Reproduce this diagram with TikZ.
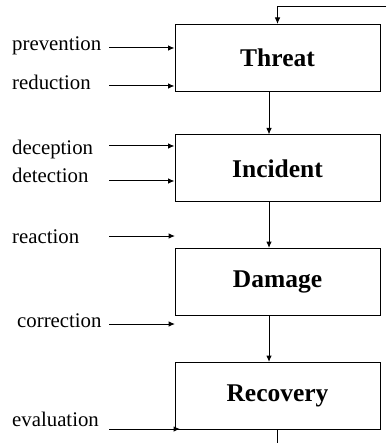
\documentclass[tikz,border=0pt]{standalone}
\usepackage{fontspec}
\setmainfont{Liberation Serif}
\usetikzlibrary{arrows.meta}
\begin{document}
\begin{tikzpicture}[x=1pt,y=-1pt,
  box/.style={draw,line width=1pt,minimum width=205pt,minimum height=67pt,inner sep=0pt,
    font=\fontsize{25.5}{28}\selectfont\bfseries},
  lbl/.style={anchor=base west,inner sep=0pt,font=\fontsize{20.8}{24}\selectfont},
  arr/.style={line width=1pt,-{Latex[length=6.5pt,width=5.5pt]}},
  ln/.style={line width=1pt}]
\useasboundingbox (0,0) rectangle (386,443);
\node[box] (threat)   at (277.5,58)  {Threat\hspace{9pt}};
\node[box] (incident) at (277.5,168.5) {Incident\hspace{9pt}};
\node[box] (damage)   at (277.5,282) {Damage\hspace{9pt}};
\node[box] (recovery) at (277.5,396) {Recovery\hspace{9pt}};
\coordinate (axis) at (269,0);
\coordinate (fb) at (386,7);
\coordinate (bot) at (277,443);
% labels
\node[lbl] (prevention) at (12,50.7) {prevention};
\node[lbl] (reduction)  at (12,89.3) {reduction};
\node[lbl] (deception)  at (12,155)  {deception};
\node[lbl] (detection)  at (12,183)  {detection};
\node[lbl] (reaction)   at (12,243)  {reaction};
\node[lbl] (correction) at (17,327)  {correction};
\node[lbl] (evaluation) at (12,426)  {evaluation};
% arrow starts
\coordinate (s1) at (109,48);
\coordinate (s2) at (109,86);
\coordinate (s3) at (109,146);
\coordinate (s4) at (109,181);
\coordinate (s5) at (109,236);
\coordinate (s6) at (109,324);
\coordinate (s7) at (109,429);
\coordinate (e5) at (175,236);
\coordinate (e6) at (175,324);
\coordinate (e7) at (180,429);
\draw[arr] (s1) -- (s1 -| threat.west);
\draw[arr] (s2) -- (s2 -| threat.west);
\draw[arr] (s3) -- (s3 -| incident.west);
\draw[arr] (s4) -- (s4 -| incident.west);
\draw[arr] (s5) -- (e5);
\draw[arr] (s6) -- (e6);
\draw[arr] (s7) -- (e7);
% main flow
\draw[arr] (threat.south -| axis) -- (incident.north -| axis);
\draw[arr] (incident.south -| axis) -- (damage.north -| axis);
\draw[arr] (damage.south -| axis) -- (recovery.north -| axis);
% feedback
\draw[arr] (fb) -| (threat.north);
\draw[ln] (recovery.south) ++(-0.5,0) -- (bot);
\end{tikzpicture}
\end{document}
